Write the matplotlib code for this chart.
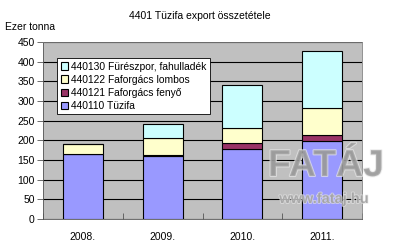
import matplotlib
matplotlib.use("Agg")
import matplotlib.pyplot as plt
import matplotlib.patheffects as pe
import numpy as np

plt.rcParams["font.family"] = ["Liberation Sans", "DejaVu Sans"]

years = ["2008.", "2009.", "2010.", "2011."]
tuzifa = [165, 160, 178, 199]
fenyo = [1, 2, 16, 14]
lombos = [24, 45, 38, 70]
fureszpor = [0, 34, 108, 145]

series = [
    ("440110 Tüzifa", tuzifa, "#9999FF"),
    ("440121 Faforgács fenyő", fenyo, "#993366"),
    ("440122 Faforgács lombos", lombos, "#FFFFCC"),
    ("440130 Fürészpor, fahulladék", fureszpor, "#CCFFFF"),
]

W, H = 400, 249
fig = plt.figure(figsize=(W / 100, H / 100), dpi=100)
fig.patch.set_facecolor("white")
ax = fig.add_axes([43 / W, 1 - 219 / H, (362 - 43) / W, (219 - 42) / H])
ax.set_facecolor("#C0C0C0")

x = np.arange(len(years))
bottom = np.zeros(len(years))
handles = []
for label, vals, col in series:
    b = ax.bar(x, vals, 0.5, bottom=bottom, color=col, edgecolor="black",
               linewidth=0.8, label=label, zorder=3)
    handles.append(b)
    bottom += np.array(vals)

ax.set_xlim(-0.5, len(years) - 0.5)
ax.set_ylim(0, 450)
ax.set_yticks(np.arange(0, 451, 50))
ax.yaxis.grid(True, color="black", linewidth=0.8, zorder=1)
ax.set_axisbelow(True)
ax.set_xticks(x)
ax.set_xticklabels(years)
ax.set_xticks(np.arange(-0.5, len(years), 1), minor=True)
ax.tick_params(axis="x", which="major", length=0, pad=9, labelsize=7.5)
ax.tick_params(axis="x", which="minor", length=4, width=0.6, direction="in", color="#555555")
ax.tick_params(axis="y", labelsize=7.5, length=4, width=0.6, color="#555555", pad=2)
for s in ["top", "right"]:
    ax.spines[s].set_color("#808080")
    ax.spines[s].set_linewidth(0.6)
ax.spines["left"].set_color("#555555")
ax.spines["bottom"].set_color("#555555")
ax.spines["left"].set_linewidth(0.6)
ax.spines["bottom"].set_linewidth(0.6)

leg = ax.legend(handles[::-1], [s[0] for s in series][::-1], loc="upper left",
                bbox_to_anchor=(14 / 319, 1 - 16 / 177), fontsize=7.4,
                frameon=True, fancybox=False, edgecolor="black", framealpha=1,
                handlelength=0.7, handleheight=0.7, handletextpad=0.3,
                labelspacing=0.3, borderpad=0.35, borderaxespad=0)
leg.get_frame().set_linewidth(0.6)
leg.set_zorder(5)

fig.text(200 / W, 1 - 16 / H, "4401 Tüzifa export összetétele", ha="center",
         va="center", fontsize=7.5)
fig.text(5 / W, 1 - 27 / H, "Ezer tonna", ha="left", va="center", fontsize=7.5)

wm = fig.text(326 / W, 1 - 166 / H, "FATÁJ", ha="center", va="center",
              fontsize=27, fontweight="bold", color="#999999", alpha=0.7,
              zorder=10)
wm.set_path_effects([pe.withStroke(linewidth=1.5, foreground="#e6e6e6")])
wm2 = fig.text(324 / W, 1 - 199 / H, "www.fataj.hu", ha="center", va="center",
               fontsize=10.5, fontweight="bold", color="#999999", alpha=0.7,
               zorder=10)
wm2.set_path_effects([pe.withStroke(linewidth=1.2, foreground="#e6e6e6")])

fig.savefig("out.png", dpi=100, facecolor="white")
